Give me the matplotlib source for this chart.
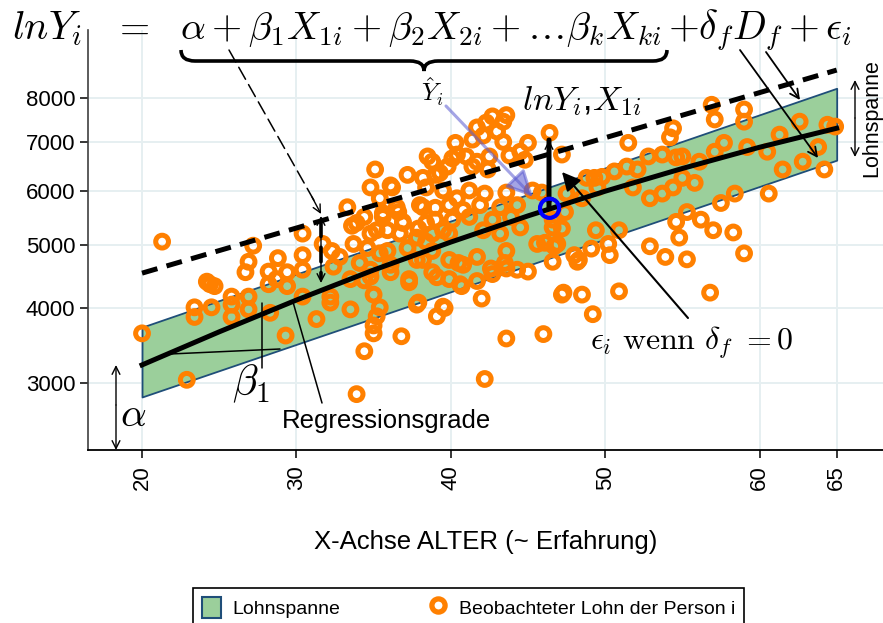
import numpy as np
import matplotlib
matplotlib.use("Agg")
import matplotlib.pyplot as plt
from matplotlib.patches import Patch, PathPatch
from matplotlib.lines import Line2D
from matplotlib.path import Path

plt.rcParams['font.family'] = ['Liberation Sans', 'DejaVu Sans']
plt.rcParams['mathtext.fontset'] = 'cm'

# axis ticks
age_ticks = [20, 30, 40, 50, 60, 65]
wage_ticks = [3000, 4000, 5000, 6000, 7000, 8000]

obs_age = [
    20.0, 21.3, 22.9, 23.4, 23.4, 24.5, 24.4, 24.2, 24.7, 25.8,
    25.8, 25.8, 26.9, 26.9, 26.7, 26.9, 27.2, 28.3, 29.3, 28.8,
    28.2, 28.2, 28.7, 29.4, 29.4, 30.4, 30.4, 30.4, 30.4, 31.3,
    32.2, 32.3, 33.3, 33.6, 33.5, 33.9, 34.4, 35.0,
    34.8, 36.2, 38.4, 38.2, 35.6, 36.6, 33.9, 34.8, 35.9, 36.9,
    33.7, 32.8, 34.1, 35.4, 36.1, 34.8, 33.5, 37.3, 37.8, 38.8,
    38.8, 39.5, 39.0, 32.2, 34.4, 32.4, 31.7, 35.4, 35.2, 35.0,
    36.8, 37.8, 39.1, 39.6,
    46.4, 43.4, 42.7, 43.6, 42.3, 43.0, 43.4, 41.7, 41.4, 40.3,
    40.4, 38.5, 39.8, 39.0, 41.0, 41.7, 42.4, 45.0, 44.5, 44.8,
    35.1, 37.2, 39.5, 40.4, 41.2, 42.2, 43.6, 35.4, 36.5, 38.0,
    39.0, 39.9, 40.8, 41.9, 43.2, 44.3, 45.3, 45.9, 42.1, 41.4,
    42.5, 43.8, 40.1, 38.8, 39.3, 38.2, 36.1,
    34.4, 35.6, 36.9, 38.4, 40.1, 41.2, 42.7, 43.9, 35.2, 36.7,
    37.8, 38.8, 39.9, 42.1, 43.2, 44.5, 46.6, 46.9, 46.6, 34.6,
    35.9, 37.2, 38.2, 39.9, 40.8, 41.7, 42.6, 43.5, 44.3, 45.0,
    36.1, 37.3, 39.1, 40.6, 41.7, 34.8, 35.0, 37.9, 39.5, 42.0,
    45.6, 43.6, 40.5, 39.9, 38.4, 37.9, 47.2,
    42.2, 43.6, 46.0, 47.2, 47.3, 48.5, 49.2, 50.9, 48.2, 40.7,
    42.7, 43.6, 56.8,
    47.2, 51.5, 54.4, 54.2, 56.9, 57.1, 59.0, 59.0, 62.6, 64.9,
    64.4, 63.8, 62.8, 64.2, 61.5, 61.3, 60.5, 59.2, 57.7, 57.1,
    56.1, 55.0, 54.6, 53.7, 52.8, 52.1, 51.4, 50.6, 49.8, 49.3,
    48.8, 49.5, 48.5, 47.5, 51.8, 52.9, 53.7, 54.4, 55.0, 55.8,
    57.5, 58.4, 60.6, 46.6, 47.4, 46.1, 46.7, 48.0, 48.3, 49.1,
    49.4, 50.2, 50.3, 50.9, 52.9, 53.9, 54.8, 54.6, 55.3, 55.3,
    56.2, 57.0, 58.3, 59.0,
]
obs_wage = [
    3640, 5060, 3040, 4010, 3870, 4010, 4360, 4400, 4330, 4170,
    4050, 3870, 4170, 3980, 4550, 4720, 4990, 3930, 3610, 4780,
    4560, 4360, 4440, 4550, 4330, 5200, 4830, 4590, 4170, 3840,
    4080, 4900, 5680, 5340, 3980, 2870, 3400, 3750,
    6060, 6060, 6060, 5680, 5570, 5590, 5390, 5200, 5260, 5390,
    5020, 4800, 4700, 4860, 4550, 4590, 4440, 4440, 4750, 4900,
    4550, 5260, 5450, 4170, 4420, 4640, 5020, 4010, 3880, 3640,
    3600, 4050, 3880, 4000,
    7200, 7450, 7570, 7600, 7430, 7230, 7000, 7320, 7050, 6980,
    6730, 6690, 6480, 6310, 6690, 6580, 6420, 6980, 6790, 6620,
    6420, 6310, 6000, 5850, 6000, 5940, 5960, 5850, 5680, 5720,
    5670, 5720, 5630, 5720, 5680, 5720, 6000, 5960, 7140, 6480,
    6690, 6710, 6650, 6580, 6350, 6250, 6100,
    5500, 5500, 5410, 5390, 5450, 5500, 5450, 5500, 5260, 5200,
    5130, 5200, 5200, 5260, 5200, 5310, 5310, 5020, 4720, 4950,
    4900, 4950, 4750, 4750, 4670, 4800, 4610, 4700, 4590, 4560,
    4670, 4390, 4470, 4360, 4410, 4480, 4200, 4080, 4020, 4140,
    5020, 4900, 4700, 4440, 5060, 5290, 5290,
    3050, 3570, 3630, 4200, 4230, 4200, 3910, 4250, 4720, 4330,
    4520, 4610, 4230,
    6730, 6980, 7300, 7100, 7840, 7500, 7730, 7450, 7450, 7340,
    7380, 6890, 6580, 6420, 6420, 7160, 6790, 6890, 6980, 6790,
    6580, 6690, 6670, 6730, 6690, 6420, 6480, 6380, 6270, 6250,
    6250, 6060, 5850, 5940, 6060, 5850, 5940, 6060, 6250, 6150,
    5760, 5940, 5940, 5450, 5590, 5040, 4980, 4830, 4750, 4940,
    5260, 5020, 4830, 5260, 4980, 4800, 5130, 5410, 5590, 4760,
    5450, 5260, 5220, 4860,
]

# fitted regression curve
reg_age = [20, 25, 30, 35, 40, 45, 50, 55, 60, 65]
reg_wage = [3224, 3661, 4118, 4585, 5052, 5519, 5986, 6440, 6885, 7302]

# shifted line (dummy delta_f)
shift_age = [20, 65]
shift_wage = [4535, 8686]

# wage span band
band_age = [20, 65]
band_low = [2837, 6612]
band_high = [3726, 8235]

# highlighted fitted point
hat_age = [46.4]
hat_wage = [5660]

orange = '#ff8000'
band_green = '#9bcf9b'
band_edge = '#1f4e79'

W, H = 883, 623
fig = plt.figure(figsize=(W / 100, H / 100), dpi=100)
ax = fig.add_axes([88 / W, (H - 450) / H, (W - 88) / W, (450 - 30) / H])


def fwd(v):
    return np.power(np.clip(v, 1e-9, None), 0.3)


def inv(v):
    return np.power(np.clip(v, 0, None), 1 / 0.3)


ax.set_yscale('function', functions=(fwd, inv))
ax.set_xlim(16.5, 68.0)
ax.set_ylim(2270, 9740)

ax.fill_between(band_age, band_low, band_high, facecolor=band_green,
                edgecolor=band_edge, lw=1.3, zorder=2)
ax.scatter(obs_age, obs_wage, s=85, facecolors='none', edgecolors=orange,
           linewidths=3.6, zorder=3)
ax.plot(shift_age, shift_wage, color='black', lw=3.6, dashes=(3.2, 1.9), zorder=4)
ax.plot(reg_age, reg_wage, color='black', lw=3.6, zorder=5)
ax.scatter(hat_age, hat_wage, s=190, facecolors='none', edgecolors='#0000ff',
           linewidths=3.0, zorder=6)

ax.set_xticks(age_ticks)
ax.set_yticks(wage_ticks)
ax.set_yticklabels([str(v) for v in wage_ticks])
ax.minorticks_off()
ax.grid(color='#e6eff1', lw=1.4)
ax.set_axisbelow(True)
for side in ['top', 'right']:
    ax.spines[side].set_visible(False)
ax.spines['left'].set_color('#404040')
ax.spines['left'].set_linewidth(1.2)
ax.spines['bottom'].set_linewidth(1.3)
ax.tick_params(axis='y', length=6, width=1.1, labelsize=16, pad=3)
ax.tick_params(axis='x', length=6, width=1.1, labelsize=16, pad=5, labelrotation=90)
ax.set_xlabel('X-Achse ALTER (~ Erfahrung)', fontsize=18.5, labelpad=29)


def fp(x, y):
    return (x, H - y)


def arrow(x0, y0, x1, y1, style='->', lw=1.0, **kw):
    ax.annotate('', xy=fp(x1, y1), xycoords='figure pixels',
                xytext=fp(x0, y0), textcoords='figure pixels',
                arrowprops=dict(arrowstyle=style, lw=lw, color=kw.pop('color', 'black'),
                                shrinkA=0, shrinkB=0, **kw))


def ftext(x, y, s, **kw):
    fig.text(x / W, 1 - y / H, s, **kw)


# equation on top
ftext(12, 39, r'$lnY_i$', fontsize=29, va='baseline')
ftext(131, 39, r'$=$', fontsize=28, va='baseline', ha='center')
ftext(180, 39, r'$\alpha+\beta_1X_{1i}+\beta_2X_{2i}+\ldots\beta_kX_{ki}$',
      fontsize=28, va='baseline')
ftext(668, 39, r'$+\delta_fD_f+\epsilon_i$', fontsize=28.5, va='baseline')

# underbrace
x0, x1, yt, ym, yb = 181, 667, 50, 61, 71
xm = (x0 + x1) / 2
r = 14
verts = [fp(x0, yt), fp(x0, ym), fp(x0 + r, ym), fp(xm - r, ym), fp(xm, ym), fp(xm, yb),
         fp(xm, ym), fp(xm + r, ym), fp(x1 - r, ym), fp(x1, ym), fp(x1, yt)]
codes = [Path.MOVETO, Path.CURVE3, Path.CURVE3, Path.LINETO, Path.CURVE3, Path.CURVE3,
         Path.CURVE3, Path.CURVE3, Path.LINETO, Path.CURVE3, Path.CURVE3]
fig.add_artist(PathPatch(Path(verts, codes), facecolor='none', edgecolor='black',
                         lw=2.6, transform=None))

# long dashed pointer to shifted line
arrow(229, 50, 316, 204, style='-', lw=1.1, linestyle=(0, (9, 4)))
arrow(312, 197, 321, 214, style='->', lw=1.0, mutation_scale=14)
# distance between lines
arrow(321, 222, 321, 278, style='-', lw=2.6, linestyle=(0, (4, 3)))
arrow(321, 250, 321, 216, style='->', lw=1.0, mutation_scale=14)
arrow(321, 250, 321, 283, style='->', lw=1.0, mutation_scale=14)

# Y hat pointer
ftext(432, 92, r'$\hat{Y}_i$', fontsize=18, ha='center', va='center')
arrow(446, 106, 533, 197, style='-|>', lw=2.2, color='#5a5ad0', alpha=0.55,
      mutation_scale=40)

# observation lnY_i, X_1i
ftext(522, 110, r'$lnY_i$,$X_{1i}$', fontsize=24.5, va='baseline')
arrow(549, 208, 549, 140, style='-', lw=3.6)
arrow(549, 175, 549, 140, style='->', lw=1.0, mutation_scale=14)
arrow(549, 175, 549, 207, style='->', lw=1.0, mutation_scale=14)

# residual
arrow(688, 318, 562, 172, style='-|>', lw=1.5, mutation_scale=28)
ftext(590, 350, r'$\epsilon_i\ \mathrm{wenn}\ \delta_f\ {=}0$', fontsize=23, va='baseline')

# delta_f pointers
arrow(740, 50, 818, 158, style='->', lw=1.3, mutation_scale=16)
arrow(766, 52, 800, 100, style='->', lw=1.3, mutation_scale=16)

# Lohnspanne on the right
arrow(855, 118, 855, 80, style='->', lw=1.0, mutation_scale=14)
arrow(855, 118, 855, 157, style='->', lw=1.0, mutation_scale=14)
ftext(872, 118, 'Lohnspanne', fontsize=15.5, rotation=90, ha='center', va='center')

# alpha
arrow(116, 405, 116, 365, style='->', lw=1.0, mutation_scale=14)
arrow(116, 405, 116, 450, style='->', lw=1.0, mutation_scale=14)
ftext(133, 415, r'$\alpha$', fontsize=29, ha='center', va='center')

# beta_1 slope marks
arrow(170, 354, 280, 349, style='-', lw=1.1)
arrow(262, 303, 262, 368, style='-', lw=1.1)
ftext(251, 384, r'$\beta_1$', fontsize=30, ha='center', va='center')

# regression line label
arrow(322, 403, 293, 302, style='-', lw=1.1)
ftext(387, 421, 'Regressionsgrade', fontsize=18.5, ha='center', va='center')

handles = [Patch(facecolor=band_green, edgecolor=band_edge, lw=1.5),
           Line2D([], [], marker='o', ls='none', mfc='none', mec=orange, ms=9.5, mew=3.8)]
leg = fig.legend(handles, ['Lohnspanne', 'Beobachteter Lohn der Person i'], ncol=2,
                 loc='upper left', bbox_to_anchor=(193 / W, (H - 588) / H),
                 borderaxespad=0, fontsize=14, frameon=True, fancybox=False,
                 edgecolor='black', framealpha=1, handlelength=1.0, handleheight=1.3,
                 handletextpad=0.6, columnspacing=4.5, borderpad=0.45)
leg.get_frame().set_linewidth(1.2)

fig.savefig('out.png', dpi=100)
